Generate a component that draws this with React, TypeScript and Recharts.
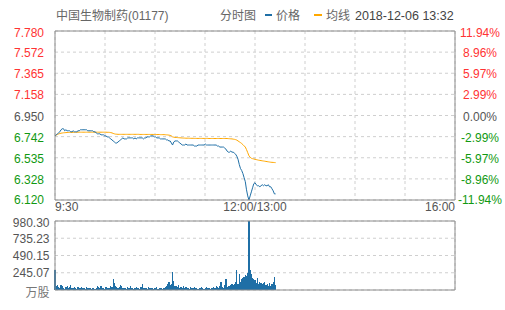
import { ComposedChart, Line, Bar, XAxis, YAxis, CartesianGrid, ReferenceLine } from 'recharts'

// minute-by-minute data from 9:30, last point 13:32
const price = [
  6.75, 6.76, 6.77, 6.78, 6.79, 6.81, 6.82, 6.82, 6.80, 6.81,
  6.80, 6.80, 6.80, 6.79, 6.79, 6.80, 6.79, 6.79, 6.79, 6.80,
  6.80, 6.81, 6.81, 6.81, 6.81, 6.81, 6.81, 6.80, 6.80, 6.80,
  6.80, 6.80, 6.79, 6.79, 6.78, 6.77, 6.77, 6.77, 6.76, 6.76,
  6.76, 6.75, 6.75, 6.74, 6.74, 6.73, 6.72, 6.71, 6.70, 6.69,
  6.68, 6.68, 6.69, 6.70, 6.71, 6.72, 6.73, 6.72, 6.72, 6.72,
  6.73, 6.73, 6.73, 6.73, 6.73, 6.72, 6.73, 6.72, 6.73, 6.73,
  6.73, 6.73, 6.73, 6.72, 6.73, 6.73, 6.74, 6.74, 6.74, 6.75,
  6.75, 6.75, 6.74, 6.74, 6.73, 6.73, 6.73, 6.72, 6.72, 6.72,
  6.72, 6.72, 6.71, 6.71, 6.70, 6.70, 6.68, 6.66, 6.69, 6.70,
  6.70, 6.70, 6.69, 6.68, 6.67, 6.66, 6.66, 6.66, 6.67, 6.66,
  6.66, 6.66, 6.66, 6.66, 6.66, 6.65, 6.65, 6.65, 6.66, 6.66,
  6.66, 6.66, 6.66, 6.66, 6.67, 6.66, 6.66, 6.66, 6.66, 6.66,
  6.66, 6.66, 6.66, 6.66, 6.65, 6.65, 6.64, 6.64, 6.64, 6.64,
  6.63, 6.62, 6.60, 6.59, 6.59, 6.60, 6.59, 6.59, 6.58, 6.57,
  6.55, 6.52, 6.47, 6.43, 6.41, 6.38, 6.34, 6.30, 6.22, 6.16,
  6.12, 6.16, 6.20, 6.24, 6.28, 6.29, 6.27, 6.26, 6.26, 6.25,
  6.26, 6.27, 6.26, 6.27, 6.26, 6.26, 6.27, 6.25, 6.25, 6.23,
  6.21, 6.18, 6.18,
]

const avgPrice = [
  6.750, 6.757, 6.764, 6.769, 6.773, 6.776, 6.778, 6.780, 6.781, 6.782,
  6.783, 6.783, 6.784, 6.784, 6.784, 6.785, 6.785, 6.785, 6.785, 6.786,
  6.786, 6.786, 6.786, 6.786, 6.786, 6.786, 6.786, 6.786, 6.786, 6.786,
  6.786, 6.786, 6.786, 6.786, 6.786, 6.786, 6.786, 6.786, 6.786, 6.786,
  6.786, 6.786, 6.786, 6.785, 6.785, 6.784, 6.782, 6.779, 6.774, 6.770,
  6.767, 6.766, 6.765, 6.765, 6.765, 6.765, 6.765, 6.765, 6.765, 6.765,
  6.765, 6.765, 6.765, 6.765, 6.765, 6.765, 6.765, 6.765, 6.765, 6.765,
  6.764, 6.764, 6.764, 6.764, 6.764, 6.764, 6.764, 6.764, 6.764, 6.764,
  6.764, 6.764, 6.763, 6.763, 6.763, 6.763, 6.763, 6.762, 6.762, 6.762,
  6.762, 6.761, 6.760, 6.759, 6.757, 6.755, 6.750, 6.740, 6.737, 6.735,
  6.734, 6.733, 6.732, 6.731, 6.730, 6.729, 6.728, 6.728, 6.727, 6.727,
  6.727, 6.726, 6.726, 6.726, 6.726, 6.725, 6.725, 6.725, 6.725, 6.725,
  6.725, 6.725, 6.725, 6.725, 6.725, 6.725, 6.725, 6.724, 6.724, 6.724,
  6.724, 6.724, 6.724, 6.724, 6.724, 6.724, 6.724, 6.724, 6.724, 6.724,
  6.724, 6.724, 6.724, 6.723, 6.722, 6.721, 6.720, 6.718, 6.716, 6.713,
  6.708, 6.700, 6.692, 6.684, 6.675, 6.664, 6.652, 6.640, 6.615, 6.585,
  6.555, 6.540, 6.530, 6.526, 6.523, 6.520, 6.517, 6.514, 6.511, 6.509,
  6.507, 6.505, 6.503, 6.501, 6.499, 6.497, 6.495, 6.493, 6.491, 6.490,
  6.489, 6.488, 6.487,
]

// 万股
const volume = [
  280, 55, 70, 40, 30, 65, 50, 35, 20, 45,
  55, 30, 40, 70, 35, 25, 45, 30, 20, 40,
  30, 35, 45, 25, 30, 20, 45, 30, 25, 35,
  20, 30, 25, 15, 30, 60, 40, 35, 50, 25,
  30, 20, 45, 30, 25, 35, 50, 40, 156, 100,
  60, 45, 30, 40, 70, 50, 30, 25, 35, 20,
  40, 30, 55, 25, 30, 20, 35, 45, 25, 30,
  20, 40, 80, 35, 25, 30, 20, 45, 30, 25,
  35, 20, 30, 25, 40, 20, 30, 35, 25, 20,
  30, 45, 60, 90, 118, 70, 85, 256, 130, 60,
  50, 40, 65, 35, 45, 30, 50, 25, 40, 30,
  35, 20, 45, 30, 25, 40, 30, 35, 20, 30,
  25, 40, 30, 20, 35, 45, 25, 30, 20, 35,
  30, 45, 25, 60, 40, 35, 55, 110, 40, 30,
  70, 156, 45, 60, 50, 75, 90, 65, 80, 110,
  284, 90, 227, 120, 150, 170, 190, 210, 200, 240,
  980, 290, 227, 170, 150, 142, 100, 170, 90, 110,
  95, 80, 100, 110, 75, 80, 60, 95, 60, 90,
  120, 190, 70,
]

const priceTicks = [6.12, 6.3275, 6.535, 6.7425, 6.95, 7.1575, 7.365, 7.5725, 7.78]
const priceLabels = ['6.120', '6.328', '6.535', '6.742', '6.950', '7.158', '7.365', '7.572', '7.780']
const pctTicks = [-11.94, -8.955, -5.97, -2.985, 0, 2.985, 5.97, 8.955, 11.94]
const pctLabels = ['-11.94%', '-8.96%', '-5.97%', '-2.99%', '0.00%', '2.99%', '5.97%', '8.96%', '11.94%']
const volTicks = [0, 245.07, 490.15, 735.23, 980.3]
const volLabels = ['万股', '245.07', '490.15', '735.23', '980.30']
// minutes of the trading day (330 total), grid every 41.25 minutes
const timeTicks = [0, 41.25, 82.5, 123.75, 165, 206.25, 247.5, 288.75, 330]
const timeLabels: Record<number, string> = { 0: '9:30', 165: '12:00/13:00', 330: '16:00' }

const data = price.map((p, i) => ({ min: i, price: p, avg: avgPrice[i], vol: volume[i] }))

const FONT = '"Liberation Sans", Arial, "Noto Sans CJK SC", sans-serif'
const RED = '#ff3333'
const GREEN = '#119911'
const GRAY = '#555555'
const BLUE = '#1f6fa6'
const ORANGE = '#ffa800'
const FRAME = '#8c8c8c'
const GRID = '#cfcfcf'

const colorOf = (i: number) => (i < 4 ? GREEN : i > 4 ? RED : GRAY)

const PriceTick = (props: any) => {
  const { x, y, payload } = props
  const i = priceTicks.indexOf(payload.value)
  const dy = i === 0 ? 3.5 : i === 8 ? 6 : 5
  return (
    <text x={x - 11} y={y + dy} textAnchor="end" fontSize={12} fontFamily={FONT} fill={colorOf(i)}>
      {priceLabels[i]}
    </text>
  )
}

const PctTick = (props: any) => {
  const { x, y, payload } = props
  const i = pctTicks.indexOf(payload.value)
  const dy = i === 0 ? 3.5 : i === 8 ? 6 : 5
  return (
    <text x={x + 25} y={y + dy} textAnchor="middle" fontSize={12} fontFamily={FONT} fill={colorOf(i)}>
      {pctLabels[i]}
    </text>
  )
}

const TimeTick = (props: any) => {
  const { x, y, payload } = props
  const label = timeLabels[payload.value]
  if (!label) return <g />
  const anchor = payload.value === 0 ? 'start' : payload.value === 330 ? 'end' : 'middle'
  return (
    <text x={x} y={y + 11} textAnchor={anchor} fontSize={12} fontFamily={FONT} fill={GRAY}>
      {label}
    </text>
  )
}

const VolTick = (props: any) => {
  const { x, y, payload } = props
  const i = volTicks.indexOf(payload.value)
  const dy = i === 0 ? 7 : i === 4 ? 6 : 4.5
  return (
    <text x={x - 5.5} y={y + dy} textAnchor="end" fontSize={12} fontFamily={FONT} fill={i === 0 ? '#777' : GRAY}>
      {volLabels[i]}
    </text>
  )
}

export default function App() {
  return (
    <div style={{ position: 'absolute', left: 0, top: 0, width: 505, height: 310, background: '#fff', fontFamily: FONT }}>
      <div style={{ position: 'absolute', left: 0, top: 0 }}>
        <ComposedChart width={505} height={215} data={data} margin={{ top: 31, right: 0, bottom: 0, left: 0 }}>
          <CartesianGrid yAxisId="price" stroke={GRID} strokeDasharray="3 3" />
          <XAxis
            dataKey="min"
            type="number"
            domain={[0, 330]}
            ticks={timeTicks}
            interval={0}
            height={15}
            tickSize={0}
            tickMargin={0}
            tickLine={false}
            axisLine={{ stroke: FRAME }}
            tick={<TimeTick />}
          />
          <YAxis
            yAxisId="price"
            domain={[6.12, 7.78]}
            ticks={priceTicks}
            interval={0}
            width={55}
            tickSize={0}
            tickMargin={0}
            tickLine={false}
            axisLine={{ stroke: FRAME }}
            tick={<PriceTick />}
            allowDataOverflow
          />
          <YAxis
            yAxisId="pct"
            orientation="right"
            domain={[-11.94, 11.94]}
            ticks={pctTicks}
            interval={0}
            width={50}
            tickSize={0}
            tickMargin={0}
            tickLine={false}
            axisLine={{ stroke: FRAME }}
            tick={<PctTick />}
            allowDataOverflow
          />
          <ReferenceLine yAxisId="price" y={7.78} stroke={FRAME} />
          <Line yAxisId="price" type="linear" dataKey="avg" stroke={ORANGE} strokeWidth={1} dot={false} isAnimationActive={false} />
          <Line yAxisId="price" type="linear" dataKey="price" stroke={BLUE} strokeWidth={1} dot={false} isAnimationActive={false} />
        </ComposedChart>
      </div>

      <div style={{ position: 'absolute', left: 0, top: 210 }}>
        <ComposedChart width={505} height={95} data={data} margin={{ top: 11, right: 0, bottom: 0, left: 0 }}>
          <CartesianGrid yAxisId="vol" stroke={GRID} strokeDasharray="3 3" />
          <XAxis
            dataKey="min"
            type="number"
            domain={[0, 330]}
            ticks={timeTicks}
            interval={0}
            height={15}
            tick={false}
            tickLine={false}
            axisLine={{ stroke: FRAME }}
          />
          <YAxis
            yAxisId="vol"
            domain={[0, 980.3]}
            ticks={volTicks}
            interval={0}
            width={55}
            tickSize={0}
            tickMargin={0}
            tickLine={false}
            axisLine={{ stroke: FRAME }}
            tick={<VolTick />}
            allowDataOverflow
          />
          <YAxis
            yAxisId="right"
            orientation="right"
            domain={[0, 980.3]}
            width={50}
            tick={false}
            tickLine={false}
            axisLine={{ stroke: FRAME }}
          />
          <ReferenceLine yAxisId="vol" y={980.3} stroke={FRAME} />
          <Bar
            yAxisId="vol"
            dataKey="vol"
            fill={BLUE}
            barSize={1.2}
            shapeRendering="crispEdges"
            isAnimationActive={false}
          />
        </ComposedChart>
      </div>

      <svg width={505} height={28} style={{ position: 'absolute', left: 0, top: 0 }}>
        <text x={56} y={20} fontSize={12} fill="#666" fontFamily={FONT}>中国生物制药(01177)</text>
        <text x={220} y={20} fontSize={12} fill="#666" fontFamily={FONT}>分时图</text>
        <line x1={265} x2={272} y1={15} y2={15} stroke={BLUE} strokeWidth={2} />
        <text x={276} y={20} fontSize={12} fill="#666" fontFamily={FONT}>价格</text>
        <line x1={314} x2={322} y1={15} y2={15} stroke={ORANGE} strokeWidth={2} />
        <text x={326} y={20} fontSize={12} fill="#666" fontFamily={FONT}>均线</text>
        <text x={355} y={20} fontSize={12.5} fill="#444" fontFamily={FONT}>2018-12-06 13:32</text>
      </svg>
    </div>
  )
}
